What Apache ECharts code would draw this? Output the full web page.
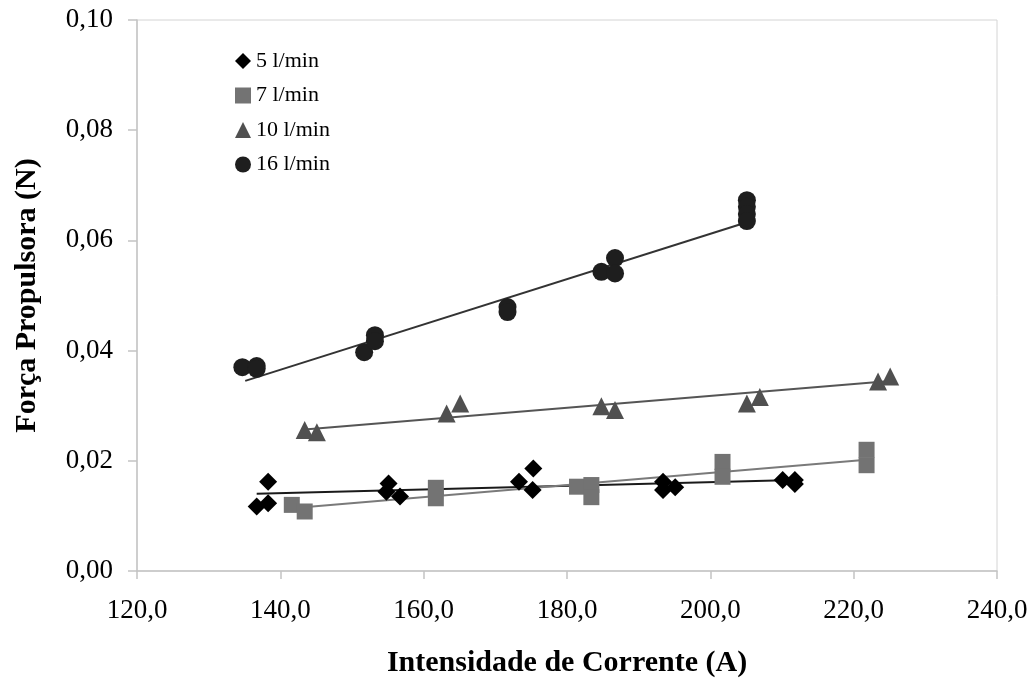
<!DOCTYPE html>
<html>
<head>
<meta charset="utf-8">
<script src="https://cdn.jsdelivr.net/npm/echarts@6/dist/echarts.min.js"></script>
<style>
  html, body { margin: 0; padding: 0; background: #fff; }
  #chart { width: 1035px; height: 684px; }
</style>
</head>
<body>
<div id="chart"></div>
<script>
// valores
const names = ['5 l/min', '7 l/min', '10 l/min', '16 l/min'];

const x5 = [136.7, 138.3, 138.3, 154.8, 155.1, 156.7, 173.3, 175.3, 175.2, 193.4, 193.4, 195.1, 210.1, 211.8, 211.8];
const y5 = [0.0117, 0.0123, 0.0162, 0.0144, 0.0159, 0.0135, 0.0162, 0.0186, 0.0147, 0.0162, 0.0147, 0.0152, 0.0165, 0.0165, 0.0158];

const x7 = [141.6, 143.4, 161.7, 161.7, 181.4, 183.4, 183.4, 201.7, 201.7, 221.8, 221.8];
const y7 = [0.0120, 0.0108, 0.0151, 0.0132, 0.0153, 0.0156, 0.0134, 0.0198, 0.0171, 0.0220, 0.0192];

const x10 = [143.4, 145.1, 163.2, 165.1, 184.8, 186.7, 205.1, 206.9, 223.4, 225.1];
const y10 = [0.0256, 0.0252, 0.0286, 0.0304, 0.0299, 0.0292, 0.0304, 0.0316, 0.0344, 0.0353];

const x16 = [134.7, 136.7, 136.7, 151.7, 153.2, 153.2, 171.7, 171.7, 184.8, 186.7, 186.7, 205.1, 205.1, 205.1, 205.1];
const y16 = [0.0370, 0.0372, 0.0367, 0.0397, 0.0428, 0.0417, 0.0479, 0.0470, 0.0543, 0.0568, 0.0540, 0.0673, 0.0661, 0.0648, 0.0635];

// linhas de tendência (pontos extremos)
const trend5x = [136.7, 211.8];
const trend5y = [0.0140, 0.0165];
const trend7x = [141.6, 221.8];
const trend7y = [0.0114, 0.0202];
const trend10x = [143.4, 225.1];
const trend10y = [0.0257, 0.0345];
const trend16x = [135.1, 205.1];
const trend16y = [0.0345, 0.0633];

const xTicks = [120, 240, 20];
const yTicks = [0, 0.1, 0.02];

function pairs(xs, ys) {
    return xs.map(function (v, i) { return [v, ys[i]]; });
}

let myChart = echarts.init(document.getElementById('chart'));

const serif = 'Liberation Serif';
const axisGray = '#c4c4c4';

let option = {
    backgroundColor: '#fff',
    animation: false,
    grid: {
        left: 137,
        right: 38,
        top: 20,
        bottom: 113,
        show: true,
        borderColor: '#d4d4d4',
        borderWidth: 1
    },
    legend: {
        orient: 'vertical',
        left: 230,
        top: 45,
        itemWidth: 16,
        itemHeight: 16,
        itemGap: 12.5,
        textStyle: { fontFamily: serif, fontSize: 22, color: '#000', lineHeight: 22 },
        data: [
            { name: names[0], icon: 'diamond' },
            { name: names[1], icon: 'rect' },
            { name: names[2], icon: 'triangle' },
            { name: names[3], icon: 'circle' }
        ]
    },
    xAxis: {
        type: 'value',
        min: xTicks[0],
        max: xTicks[1],
        interval: xTicks[2],
        name: 'Intensidade de Corrente (A)',
        nameLocation: 'middle',
        nameGap: 77,
        nameTextStyle: { fontFamily: serif, fontSize: 30, fontWeight: 'bold', color: '#000' },
        axisLine: { lineStyle: { color: axisGray, width: 1.5 } },
        axisTick: { show: true, length: 8, lineStyle: { color: axisGray, width: 1.5 } },
        splitLine: { show: false },
        axisLabel: {
            margin: 26,
            fontFamily: serif,
            fontSize: 27,
            color: '#000',
            formatter: function (v) { return v.toFixed(1).replace('.', ','); }
        }
    },
    yAxis: {
        type: 'value',
        min: yTicks[0],
        max: yTicks[1],
        interval: yTicks[2],
        name: 'Força Propulsora (N)',
        nameLocation: 'middle',
        nameGap: 95,
        nameRotate: 90,
        nameTextStyle: { fontFamily: serif, fontSize: 30, fontWeight: 'bold', color: '#000' },
        axisLine: { show: true, lineStyle: { color: axisGray, width: 1.5 } },
        axisTick: { show: true, length: 9, lineStyle: { color: axisGray, width: 1.5 } },
        splitLine: { show: false },
        axisLabel: {
            margin: 24,
            fontFamily: serif,
            fontSize: 27,
            color: '#000',
            formatter: function (v) { return v.toFixed(2).replace('.', ','); }
        }
    },
    series: [
        {
            type: 'line', data: pairs(trend5x, trend5y), symbol: 'none', silent: true,
            lineStyle: { color: '#1a1a1a', width: 2 }, z: 1
        },
        {
            type: 'line', data: pairs(trend7x, trend7y), symbol: 'none', silent: true,
            lineStyle: { color: '#7a7a7a', width: 2 }, z: 1
        },
        {
            type: 'line', data: pairs(trend10x, trend10y), symbol: 'none', silent: true,
            lineStyle: { color: '#555', width: 2 }, z: 1
        },
        {
            type: 'line', data: pairs(trend16x, trend16y), symbol: 'none', silent: true,
            lineStyle: { color: '#333', width: 2 }, z: 1
        },
        {
            name: names[0], type: 'scatter', symbol: 'diamond', symbolSize: 18,
            itemStyle: { color: '#000', opacity: 1 }, data: pairs(x5, y5), z: 3
        },
        {
            name: names[1], type: 'scatter', symbol: 'rect', symbolSize: 16,
            itemStyle: { color: '#737373', opacity: 1 }, data: pairs(x7, y7), z: 2
        },
        {
            name: names[2], type: 'scatter', symbol: 'triangle', symbolSize: 18,
            itemStyle: { color: '#505050', opacity: 1 }, data: pairs(x10, y10), z: 2
        },
        {
            name: names[3], type: 'scatter', symbol: 'circle', symbolSize: 18,
            itemStyle: { color: '#1e1e1e', opacity: 1 }, data: pairs(x16, y16), z: 2
        }
    ]
};

myChart.setOption(option);
</script>
</body>
</html>
